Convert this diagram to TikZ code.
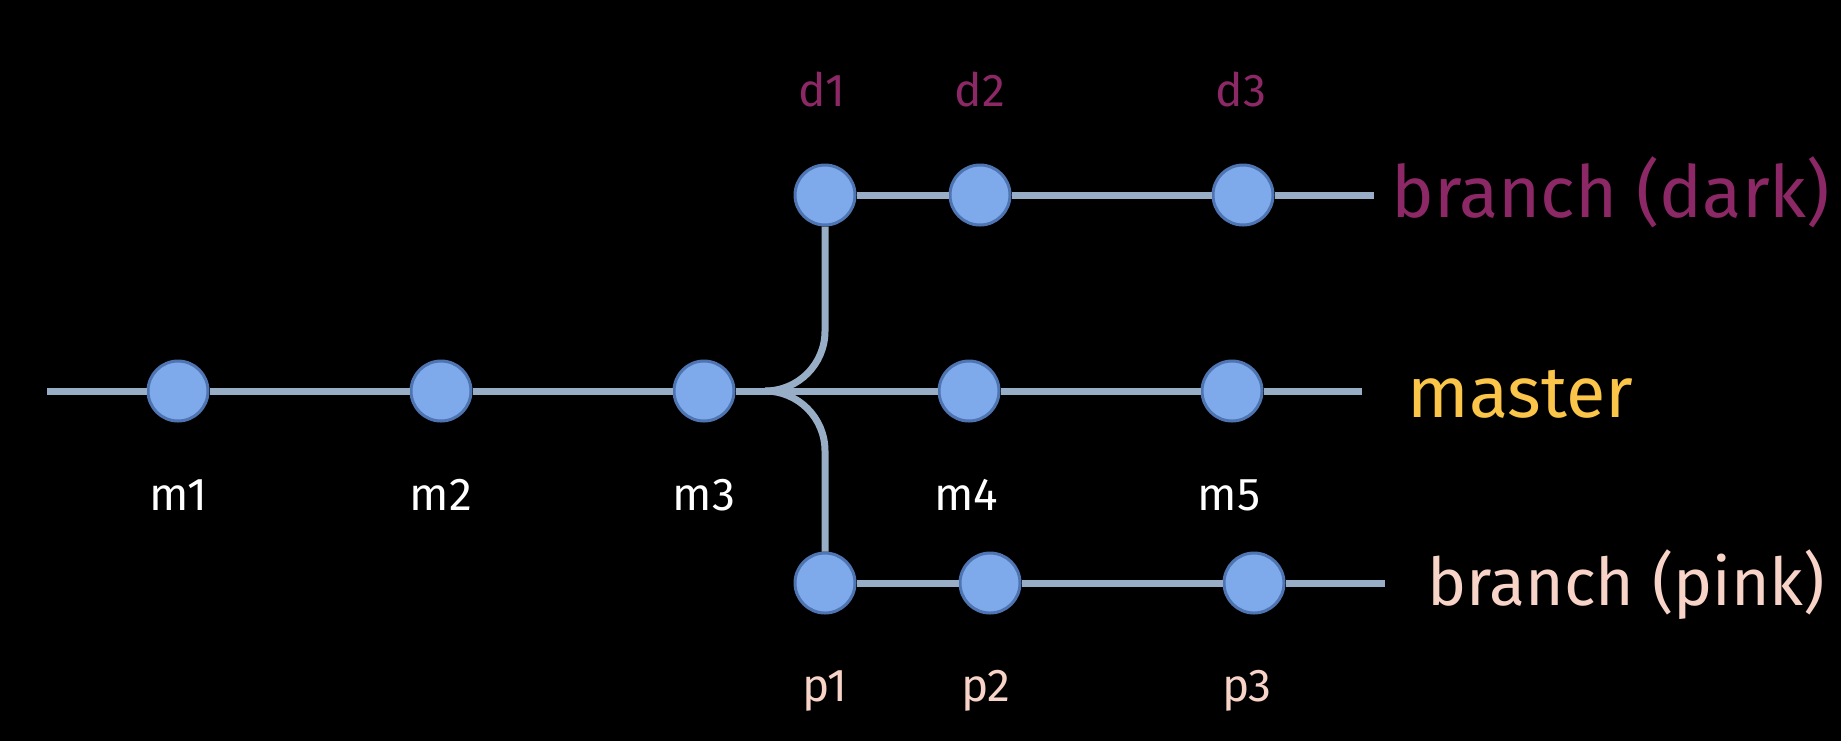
\documentclass[tikz,border=0pt]{standalone}
\usepackage{fontspec}
\setmainfont{Fira Sans}
\definecolor{bg}{HTML}{000000}
\definecolor{linecol}{HTML}{98AEC6}
\definecolor{cfill}{HTML}{7EAAEC}
\definecolor{cborder}{HTML}{4E74B2}
\definecolor{darkcol}{HTML}{8C2865}
\definecolor{mastercol}{HTML}{FAC548}
\definecolor{pinkcol}{HTML}{F8D4C8}
\tikzset{
  commit/.style={circle, draw=cborder, fill=cfill, line width=1.5pt, minimum size=30pt, inner sep=0pt},
  edge/.style={draw=linecol, line width=3.5pt},
  lbl/.style={anchor=base, inner sep=0pt, font=\fontsize{23}{27}\selectfont},
  blabel/.style={anchor=base west, inner sep=0pt, font=\fontsize{36}{40}\selectfont}
}
\begin{document}
\begin{tikzpicture}[x=0.5pt, y=-0.5pt]
\fill[bg] (0,0) rectangle (1841,741);
\useasboundingbox (0,0) rectangle (1841,741);
% coordinates
\coordinate (mstart) at (47,391);
\coordinate (mend) at (1362,391);
\coordinate (dend) at (1374,195);
\coordinate (pend) at (1385,583);
\coordinate (j) at (765,391);
\coordinate (ju) at (825,331);
\coordinate (jd) at (825,451);
% commits
\node[commit] (m1) at (178,391) {};
\node[commit] (m2) at (441,391) {};
\node[commit] (m3) at (704,391) {};
\node[commit] (m4) at (969,391) {};
\node[commit] (m5) at (1232,391) {};
\node[commit] (d1) at (825,195) {};
\node[commit] (d2) at (980,195) {};
\node[commit] (d3) at (1243,195) {};
\node[commit] (p1) at (825,583) {};
\node[commit] (p2) at (990,583) {};
\node[commit] (p3) at (1254,583) {};
% connectors
\path[edge] (mstart) -- (m1) -- (m2) -- (m3) -- (m4) -- (m5) -- (mend);
\path[edge] (d1) -- (d2) -- (d3) -- (dend);
\path[edge] (p1) -- (p2) -- (p3) -- (pend);
\path[edge] (d1) -- (ju) to[out=-90, in=0] (j);
\path[edge] (p1) -- (jd) to[out=90, in=0] (j);
% labels
\node[lbl, text=white] (lm1) at (178,510) {m1};
\node[lbl, text=white] (lm2) at (441,510) {m2};
\node[lbl, text=white] (lm3) at (704,510) {m3};
\node[lbl, text=white] (lm4) at (966,510) {m4};
\node[lbl, text=white] (lm5) at (1229,510) {m5};
\node[lbl, text=darkcol] (ld1) at (822,106) {d1};
\node[lbl, text=darkcol] (ld2) at (980,106) {d2};
\node[lbl, text=darkcol] (ld3) at (1241,106) {d3};
\node[lbl, text=pinkcol] (lp1) at (825,701) {p1};
\node[lbl, text=pinkcol] (lp2) at (986,701) {p2};
\node[lbl, text=pinkcol] (lp3) at (1247,701) {p3};
\node[blabel, text=darkcol] (bdark) at (1391,217) {branch (dark)};
\node[blabel, text=mastercol] (bmaster) at (1407,417) {master};
\node[blabel, text=pinkcol, font=\fontsize{33}{38}\selectfont] (bpink) at (1427,605) {branch (pink)};
\end{tikzpicture}
\end{document}
